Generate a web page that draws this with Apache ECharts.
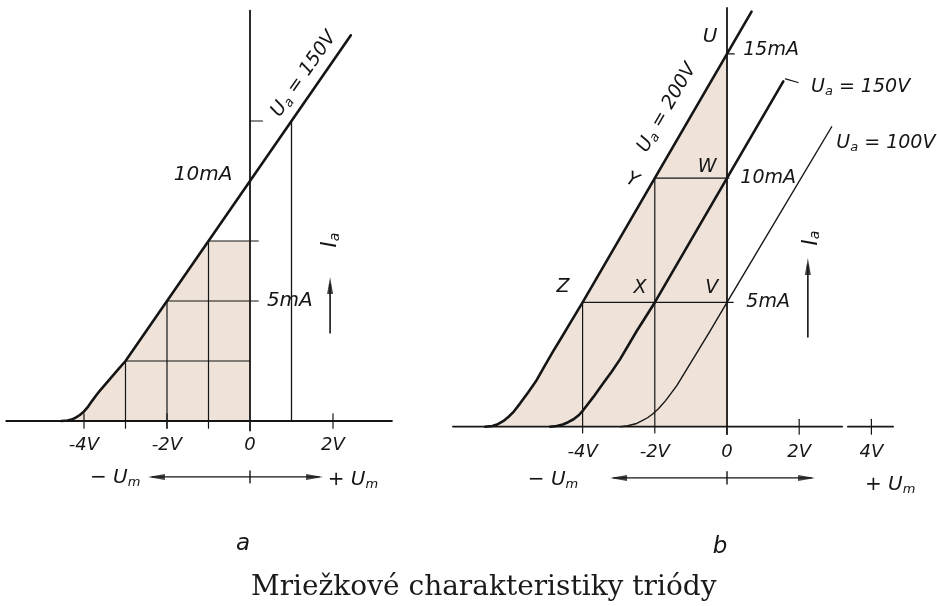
<!DOCTYPE html>
<html>
<head>
<meta charset="utf-8">
<script src="https://cdn.jsdelivr.net/npm/echarts@6/dist/echarts.min.js"></script>
<style>html,body{margin:0;padding:0;background:#fff}#c{width:937px;height:606px}</style>
</head>
<body>
<div id="c"></div>
<script>
// ---------- DATA (volts on x, milliamps on y) ----------
// Panel a : Ua = 150 V
const aTickV = [-4, -2, 0, 2];
const aTickLabels = ['-4V', '-2V', '0', '2V'];
const aCurveU = [-4.55, -4.4, -4.3, -4.2, -4.1, -4.0, -3.9, -3.8, -3.7, -3.6, -3.45, -3.3, -3.15, -3.0, -2, -1, 0, 1, 2.43];
const aCurveI = [0, 0.02, 0.06, 0.14, 0.25, 0.4, 0.6, 0.85, 1.08, 1.3, 1.6, 1.9, 2.2, 2.5, 5, 7.5, 10, 12.5, 16.07];
const aStepU = [-3, -2, -1];
const aStepI = [2.5, 5, 7.5];
const aPointU = 1, aPointI = 12.5;

// Panel b : Ua = 200, 150, 100 V
const bTickV = [-4, -2, 0, 2, 4];
const bTickLabels = ['-4V', '-2V', '0', '2V', '4V'];
const b200U = [-6.7, -6.5, -6.35, -6.2, -6.05, -5.9, -5.73, -5.5, -5.27, -5.05, -4.81, -4.6, -4.35, -4.0, -2, 0, 0.68];
const b200I = [0, 0.03, 0.1, 0.22, 0.4, 0.62, 0.94, 1.4, 1.88, 2.45, 3.05, 3.55, 4.16, 5.0, 10, 15.0, 16.7];
const b150U = [-4.9, -4.72, -4.55, -4.4, -4.25, -4.1, -3.98, -3.7, -3.43, -3.2, -2.96, -2.5, -2.0, 0, 1.56];
const b150I = [0, 0.03, 0.09, 0.18, 0.3, 0.47, 0.67, 1.2, 1.75, 2.2, 2.72, 3.85, 5, 10, 13.9];
const b100U = [-2.95, -2.75, -2.5, -2.35, -2.2, -2.05, -1.9, -1.7, -1.39, -0.93, -0.47, 0, 2.9];
const b100I = [0, 0.04, 0.13, 0.24, 0.36, 0.52, 0.72, 1.05, 1.65, 2.75, 3.85, 5.0, 12.07];
const bStepU = [-4, -2];
const bStepI = [5, 10];

// ---------- LAYOUT ----------
const A = {left: 0, width: 400, x0: 250, pxV: 41.5, y0: 421, pxI: 24};
const B = {left: 440, width: 497, x0: 727, pxV: 36.1, y0: 426.7, pxI: 24.85};
const H = 606;
function ext(P) {
  return {xmin: (P.left - P.x0) / P.pxV, xmax: (P.left + P.width - P.x0) / P.pxV,
          ymax: P.y0 / P.pxI, ymin: -(H - P.y0) / P.pxI};
}
const eA = ext(A), eB = ext(B);

const INK = '#151515';
const FILL = '#efe3d9';
const FONT = 'DejaVu Sans';

const zip = (u, i) => u.map((v, k) => [v, i[k]]);
function seg(g, pts, w, z) {
  return {type: 'line', xAxisIndex: g, yAxisIndex: g, data: pts, symbol: 'none', silent: true,
          animation: false, clip: false, z: z || 2, lineStyle: {width: w, color: INK, cap: 'round', join: 'round'}};
}
function curve(g, pts, w) { return seg(g, pts, w, 4); }
function area(g, pts) {
  return {type: 'line', xAxisIndex: g, yAxisIndex: g, data: pts, symbol: 'none', silent: true,
          animation: false, z: 1,
          lineStyle: {width: 0, opacity: 0}, areaStyle: {color: FILL, opacity: 1}};
}
function rich(sz) {
  return {s: {fontSize: Math.round(sz * 0.66), fontFamily: FONT, fontStyle: 'italic', color: INK, opacity: 1,
              padding: [Math.round(sz * 0.45), 0, 0, 0]}};
}
function labels(g, items) {
  return {type: 'scatter', xAxisIndex: g, yAxisIndex: g, symbolSize: 0, silent: true, animation: false, z: 6,
    itemStyle: {color: INK, opacity: 1},
    data: items.map(it => ({value: [it[1], it[2]], label: {
      show: true, position: 'inside', formatter: it[0], rotate: it[4] || 0, opacity: 1,
      textBorderWidth: 0, fontFamily: FONT, fontStyle: 'italic', fontSize: it[3], color: INK, rich: rich(it[3])}}))};
}
function heads(g, pts) { // [x, y, rotate]
  return {type: 'scatter', xAxisIndex: g, yAxisIndex: g, silent: true, animation: false, z: 5,
    symbol: 'triangle', symbolSize: [6, 17],
    itemStyle: {color: INK},
    data: pts.map(p => ({value: [p[0], p[1]], symbolRotate: p[2]}))};
}

const series = [];
// ----- Panel a -----
const aCurve = zip(aCurveU, aCurveI);
series.push(area(0, aCurve.filter(p => p[0] <= aStepU[2]).concat([[0, aStepI[2]]])));
series.push(curve(0, aCurve, 2.6));
series.push(seg(0, [[eA.xmin + 0.15, 0], [3.42, 0]], 1.8, 3));       // x axis
series.push(seg(0, [[0, -0.4], [0, 17.1]], 1.8, 3));                 // y axis
aStepU.forEach((u, k) => {
  series.push(seg(0, [[u, -0.3], [u, aStepI[k]]], 1.2));
  series.push(seg(0, [[u, aStepI[k]], [k === 0 ? 0 : 0.2, aStepI[k]]], 1.2));
});
series.push(seg(0, [[aPointU, 0], [aPointU, aPointI]], 1.3));
series.push(seg(0, [[0, aPointI], [0.3, aPointI]], 1.2));
aTickV.filter(v => v !== 0).forEach(v => series.push(seg(0, [[v, -0.3], [v, 0.3]], 1.2)));
// Um arrow
const aUm = [-2.46, 1.76], aUmI = -2.33;
series.push(seg(0, [[aUm[0] + 0.1, aUmI], [aUm[1] - 0.1, aUmI]], 1.4));
series.push(seg(0, [[0, aUmI + 0.25], [0, aUmI - 0.25]], 1.4));
series.push(heads(0, [[aUm[0] + 8.5 / A.pxV, aUmI, 90], [aUm[1] - 8.5 / A.pxV, aUmI, -90]]));
// Ia arrow
const aIaU = 1.93, aIa = [3.67, 6.0];
series.push(seg(0, [[aIaU, aIa[0]], [aIaU, aIa[1] - 0.3]], 1.6));
series.push(heads(0, [[aIaU, aIa[1] - 8.5 / A.pxI, 0]]));
series.push(labels(0, [
  ['10mA', -1.13, 10.25, 20],
  ['5mA', 0.96, 5.0, 20],
  ['U{s|a} = 150V', 1.3, 14.45, 19, 55],
  ['I{s|a}', 1.95, 7.54, 21, 90],
  ['− U{s|m}', -3.25, -2.37, 20],
  ['+ U{s|m}', 2.48, -2.46, 20],
  ['a', -0.17, -5.13, 23]
].concat(aTickV.map((v, k) => [aTickLabels[k], v, -1.0, 18]))));

// ----- Panel b -----
const c200 = zip(b200U, b200I), c150 = zip(b150U, b150I), c100 = zip(b100U, b100I);
series.push(area(1, c200.filter(p => p[0] <= 0)));
series.push(curve(1, c200, 2.6));
series.push(curve(1, c150, 2.6));
series.push(curve(1, c100, 1.4));
series.push(seg(1, [[-7.59, 0], [3.19, 0]], 1.8, 3));
series.push(seg(1, [[3.35, 0], [4.6, 0]], 1.8, 3));
series.push(seg(1, [[0, -0.3], [0, 16.85]], 1.8, 3));
bStepU.forEach((u, k) => {
  series.push(seg(1, [[u, -0.25], [u, bStepI[k]]], 1.2));
  series.push(seg(1, [[u, bStepI[k]], [k === 0 ? 0.17 : 0.05, bStepI[k]]], 1.2));
});
series.push(seg(1, [[0, 15], [0.2, 15]], 1.2));
bTickV.filter(v => v > 0).forEach(v => series.push(seg(1, [[v, -0.3], [v, 0.3]], 1.2)));
series.push(seg(1, [[1.62, 14.0], [1.97, 13.85]], 1.2));
const bUm = [-3.24, 2.44], bUmI = -2.06;
series.push(seg(1, [[bUm[0] + 0.1, bUmI], [bUm[1] - 0.1, bUmI]], 1.4));
series.push(seg(1, [[0, bUmI + 0.25], [0, bUmI - 0.25]], 1.4));
series.push(heads(1, [[bUm[0] + 8.5 / B.pxV, bUmI, 90], [bUm[1] - 8.5 / B.pxV, bUmI, -90]]));
const bIaU = 2.24, bIa = [3.61, 6.79];
series.push(seg(1, [[bIaU, bIa[0]], [bIaU, bIa[1] - 0.3]], 1.6));
series.push(heads(1, [[bIaU, bIa[1] - 8.5 / B.pxI, 0]]));
series.push(labels(1, [
  ['U', -0.47, 15.68, 20],
  ['15mA', 1.22, 15.16, 19],
  ['W', -0.55, 10.45, 19],
  ['10mA', 1.14, 10.0, 19],
  ['Y', -2.63, 9.92, 19, -25],
  ['Z', -4.54, 5.62, 19],
  ['X', -2.41, 5.58, 19],
  ['V', -0.42, 5.58, 19],
  ['5mA', 1.14, 5.02, 19],
  ['U{s|a} = 200V', -1.66, 12.83, 19, 60],
  ['U{s|a} = 150V', 3.7, 13.66, 19],
  ['U{s|a} = 100V', 4.4, 11.42, 19],
  ['I{s|a}', 2.33, 7.59, 21, 90],
  ['− U{s|m}', -4.82, -2.14, 20],
  ['+ U{s|m}', 4.52, -2.35, 20],
  ['b', -0.19, -4.84, 23]
].concat(bTickV.map((v, k) => [bTickLabels[k], v, -1.02, 18]))));

function axes(e, type) {
  return type === 'x'
    ? {type: 'value', min: e.xmin, max: e.xmax, show: false}
    : {type: 'value', min: e.ymin, max: e.ymax, show: false};
}

const chart = echarts.init(document.getElementById('c'), null, {renderer: 'canvas'});
chart.setOption({
  backgroundColor: '#ffffff',
  animation: false,
  title: {text: 'Mriežkové charakteristiky triódy', left: 246, top: 569,
          textStyle: {fontFamily: 'DejaVu Serif', fontSize: 28, fontWeight: 'normal', color: '#1a1a1a'}},
  grid: [
    {left: A.left, width: A.width, top: 0, height: H, outerBoundsMode: 'none', containLabel: false},
    {left: B.left, width: B.width, top: 0, height: H, outerBoundsMode: 'none', containLabel: false}
  ],
  xAxis: [Object.assign(axes(eA, 'x'), {gridIndex: 0}), Object.assign(axes(eB, 'x'), {gridIndex: 1})],
  yAxis: [Object.assign(axes(eA, 'y'), {gridIndex: 0}), Object.assign(axes(eB, 'y'), {gridIndex: 1})],
  series: series
});
</script>
</body>
</html>
